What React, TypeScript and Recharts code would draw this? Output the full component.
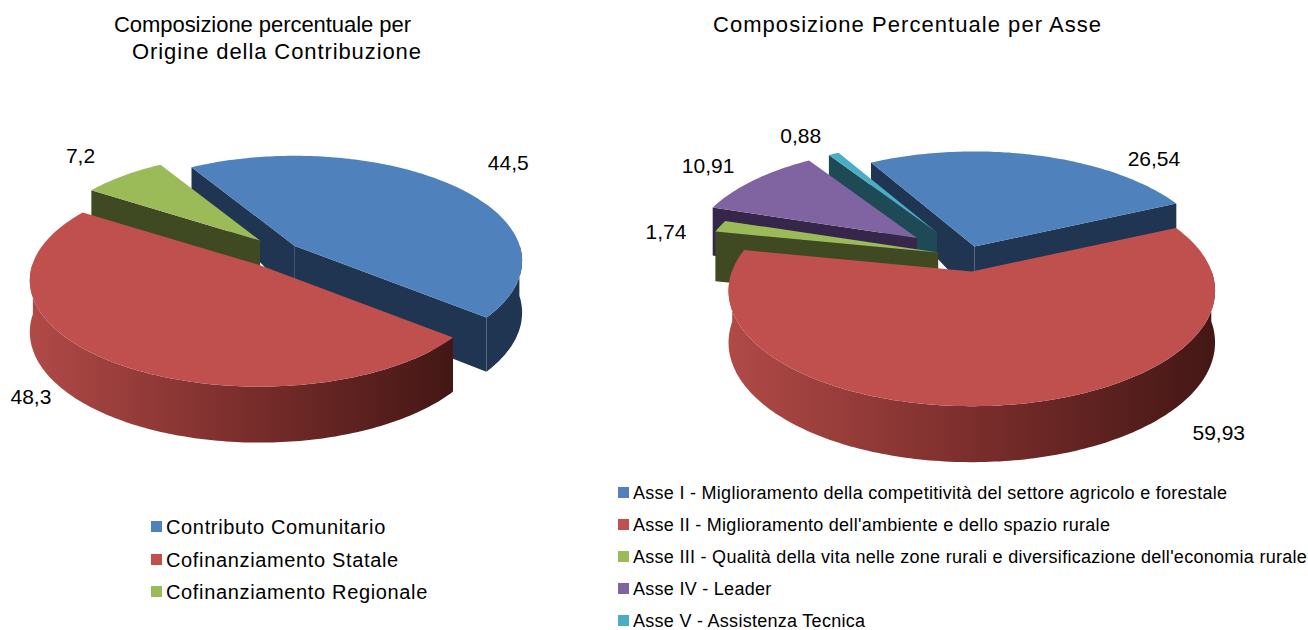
import React from "react";
import { PieChart, Pie, Legend } from "recharts";

const originNames = ["Contributo Comunitario", "Cofinanziamento Statale", "Cofinanziamento Regionale"];
const originValues = [44.5, 48.3, 7.2];
const originLabels = ["44,5", "48,3", "7,2"];

const axisNames = [
  "Asse I - Miglioramento della competitività del settore agricolo e forestale",
  "Asse II - Miglioramento dell'ambiente e dello spazio rurale",
  "Asse III - Qualità della vita nelle zone rurali e diversificazione dell'economia rurale",
  "Asse IV - Leader",
  "Asse V - Assistenza Tecnica",
];
const axisValues = [26.54, 59.93, 1.74, 10.91, 0.88];
const axisLabels = ["26,54", "59,93", "1,74", "10,91", "0,88"];

const FONT = "'Liberation Sans', Arial, sans-serif";
const topColors = ["#4f81bd", "#c0504d", "#9bbb59", "#8064a2", "#4bacc6"];
const wallColors = ["#1f3552", "url(#redWall)", "#3f4a22", "#35264a", "#1d4a55"];
const cutColors = ["#1f3552", "#4a1b19", "#3f4a22", "#35264a", "#1d4a55"];

type View = { aspect: number; persp: number; explode: number[]; shrink: number[]; nudge: number[][] };

const leftView: View = {
  aspect: 0.458,
  persp: 0.143,
  explode: [0.075, 0.17, 0.14],
  shrink: [1, 1.01, 0.965],
  nudge: [[58, -22], [-77, 36], [-43, -20]],
};
const rightView: View = {
  aspect: 0.468,
  persp: 0.167,
  explode: [0.09, 0.14, 0.13, 0.27, 0.25],
  shrink: [1, 1.012, 0.99, 0.95, 0.95],
  nudge: [[117, 3], [214, 27], [-54, 5], [-46, -15], [-33, -18]],
};

const rad = (d: number) => (d * Math.PI) / 180;
const wallDepth = (v: number) => (v >= 0 ? 51 + 5 * v : 51 - 33 * v * v);

function geometry(p: any, view: View, i: number) {
  const { cx, cy, outerRadius: R, startAngle, endAngle } = p;
  const mid = (startAngle + endAngle) / 2;
  const e = view.explode[i];
  const k = view.shrink[i];
  const eu = e * Math.cos(rad(mid));
  const ev = -e * Math.sin(rad(mid));
  const at = (u: number, v: number) => {
    const s = k / (1 - view.persp * v);
    return {
      x: cx + R * (u * s + eu),
      y: cy + R * view.aspect * (v * s + ev),
      d: wallDepth(v),
    };
  };
  const rim = (deg: number) => at(Math.cos(rad(deg)), -Math.sin(rad(deg)));
  return { at, rim, mid, startAngle, endAngle };
}

const poly = (pts: number[][]) => "M" + pts.map((q) => q[0].toFixed(1) + "," + q[1].toFixed(1)).join("L") + "Z";

function sliceShape(view: View, own: number) {
  return (p: any) => {
    const i = p.index;
    if (i !== own) return <g />;
    const g = geometry(p, view, i);
    const n = Math.max(2, Math.ceil(Math.abs(g.startAngle - g.endAngle)));
    const arc: any[] = [];
    for (let k = 0; k <= n; k++) {
      const deg = g.startAngle + ((g.endAngle - g.startAngle) * k) / n;
      arc.push({ ...g.rim(deg), deg });
    }
    const apex = g.at(0, 0);
    const top = poly([[apex.x, apex.y], ...arc.map((q) => [q.x, q.y])]);
    const front = arc.filter((q) => Math.sin(rad(q.deg)) <= 0.02);
    const first = arc[0];
    const last = arc[arc.length - 1];
    const startVisible = -Math.sin(rad(90 - g.startAngle)) > 0;
    const endVisible = Math.sin(rad(90 - g.endAngle)) > 0;
    const cut = (q: any) =>
      poly([[apex.x, apex.y], [q.x, q.y], [q.x, q.y + q.d], [apex.x, apex.y + apex.d]]);
    return (
      <g>
        {startVisible && <path d={cut(first)} fill={cutColors[i]} />}
        {endVisible && <path d={cut(last)} fill={cutColors[i]} />}
        {front.length > 1 && (
          <path
            d={poly([
              ...front.map((q) => [q.x, q.y]),
              ...front.slice().reverse().map((q) => [q.x, q.y + q.d]),
            ])}
            fill={wallColors[i]}
          />
        )}
        <path d={top} fill={topColors[i]} />
      </g>
    );
  };
}

function sliceLabel(view: View, own: number, texts: string[]) {
  return (p: any) => {
    if (p.index !== own) return <g />;
    const g = geometry(p, view, own);
    const q = g.rim(g.mid);
    return (
      <text
        x={q.x + view.nudge[own][0]}
        y={q.y + view.nudge[own][1]}
        textAnchor="middle"
        dominantBaseline="central"
        fontFamily={FONT}
        fontSize={21}
        fill="#000"
      >
        {texts[own]}
      </text>
    );
  };
}

const leftData = originNames.map((name, i) => ({ name, value: originValues[i] }));
const rightData = axisNames.map((name, i) => ({ name, value: axisValues[i] }));

const leftOrder = [0, 2, 1];
const rightOrder = [0, 4, 3, 2, 1];

function LegendBlock({ names, left, top, step, size, gap }: any) {
  return (
    <>
      {names.map((n: string, i: number) => (
        <div
          key={n}
          style={{
            position: "absolute",
            left,
            top: top + i * step,
            height: 24,
            lineHeight: "24px",
            whiteSpace: "nowrap",
            fontFamily: FONT,
            fontSize: size,
            letterSpacing: gap,
            color: "#000",
          }}
        >
          <span
            style={{
              position: "absolute",
              left: -15,
              top: 6,
              width: 11,
              height: 11,
              background: topColors[i],
            }}
          />
          {n}
        </div>
      ))}
    </>
  );
}

function AllLegends() {
  return (
    <div style={{ position: "relative", width: 1308, height: 630 }}>
      <LegendBlock names={originNames} left={166} top={515} step={32.5} size={20} gap={0.65} />
      <LegendBlock names={axisNames} left={633} top={481} step={32} size={18} gap={0.28} />
    </div>
  );
}

const Title = ({ x, y, len, children }: any) => (
  <text
    x={x}
    y={y}
    textLength={len}
    lengthAdjust="spacing"
    textAnchor="middle"
    dominantBaseline="central"
    fontFamily={FONT}
    fontSize={22}
    fill="#000"
  >
    {children}
  </text>
);

export default function App() {
  return (
    <div style={{ position: "absolute", left: 0, top: 0, width: 1308, height: 630, background: "#fff" }}>
      <PieChart width={1308} height={630} margin={{ top: 0, right: 0, bottom: 0, left: 0 }}>
        <defs>
          <linearGradient id="redWall" x1="0" y1="0" x2="1" y2="0">
            <stop offset="0" stopColor="#b04a47" />
            <stop offset="0.5" stopColor="#7b2e2c" />
            <stop offset="1" stopColor="#431715" />
          </linearGradient>
        </defs>
        <Title x={262.5} y={24} len={297}>Composizione percentuale per</Title>
        <Title x={276.5} y={51} len={289}>Origine della Contribuzione</Title>
        <Title x={907} y={24} len={388}>Composizione Percentuale per Asse</Title>
        {leftOrder.map((own) => (
          <Pie
            key={"l" + own}
            data={leftData}
            dataKey="value"
            nameKey="name"
            cx={282}
            cy={251}
            innerRadius={0}
            outerRadius={225}
            startAngle={121}
            endAngle={-239}
            stroke="none"
            isAnimationActive={false}
            shape={sliceShape(leftView, own)}
            label={sliceLabel(leftView, own, originLabels)}
            labelLine={false}
          />
        ))}
        {rightOrder.map((own) => (
          <Pie
            key={"r" + own}
            data={rightData}
            dataKey="value"
            nameKey="name"
            cx={968}
            cy={256}
            innerRadius={0}
            outerRadius={237}
            startAngle={120}
            endAngle={-240}
            stroke="none"
            isAnimationActive={false}
            shape={sliceShape(rightView, own)}
            label={sliceLabel(rightView, own, axisLabels)}
            labelLine={false}
          />
        ))}
        <Legend
          content={<AllLegends />}
          wrapperStyle={{ left: 0, top: 0, width: 1308, height: 630, pointerEvents: "none" }}
        />
      </PieChart>
    </div>
  );
}
